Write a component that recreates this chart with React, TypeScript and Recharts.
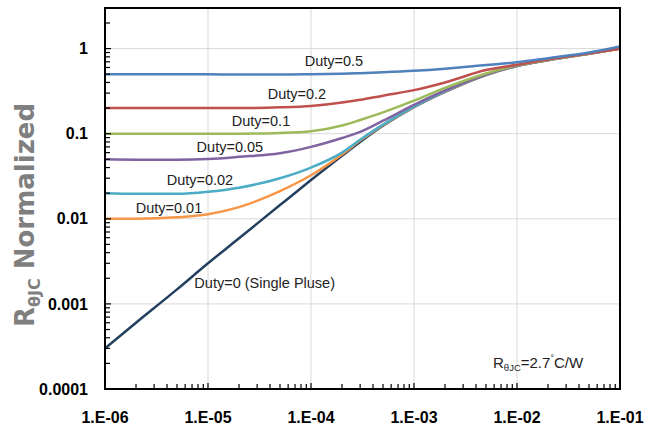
import React from "react";
import {
  LineChart,
  Line,
  XAxis,
  YAxis,
  CartesianGrid,
  ReferenceDot,
} from "recharts";

// pulse width (s) sample points
const pulseTimes = [
  1e-6, 2e-6, 5e-6, 1e-5, 2e-5, 5e-5, 1e-4, 2e-4, 3e-4, 5e-4, 1e-3, 2e-3, 5e-3,
  1e-2, 2e-2, 5e-2, 1e-1,
];

// normalized thermal impedance per duty cycle
const duty05 = [0.5, 0.5, 0.5, 0.498, 0.495, 0.495, 0.5, 0.508, 0.515, 0.527, 0.548, 0.58, 0.64, 0.69, 0.77, 0.9, 1.06];
const duty02 = [0.2, 0.2, 0.2, 0.2, 0.2, 0.204, 0.212, 0.232, 0.25, 0.28, 0.325, 0.4, 0.56, 0.645, 0.745, 0.876, 1.0];
const duty01 = [0.1, 0.1, 0.1, 0.1, 0.1, 0.102, 0.107, 0.125, 0.145, 0.178, 0.245, 0.345, 0.51, 0.635, 0.737, 0.874, 1.0];
const duty005 = [0.05, 0.0495, 0.0495, 0.0505, 0.0535, 0.059, 0.07, 0.089, 0.105, 0.142, 0.218, 0.322, 0.497, 0.63, 0.735, 0.873, 1.0];
const duty002 = [0.02, 0.0197, 0.0197, 0.0208, 0.0232, 0.03, 0.04, 0.06, 0.085, 0.128, 0.208, 0.314, 0.494, 0.628, 0.735, 0.873, 1.0];
const duty001 = [0.01, 0.01, 0.0104, 0.0113, 0.0137, 0.0212, 0.0325, 0.057, 0.083, 0.126, 0.207, 0.312, 0.492, 0.627, 0.733, 0.872, 1.0];
const singlePulse = [0.0003, 0.0006, 0.00148, 0.003, 0.0059, 0.0145, 0.0285, 0.055, 0.08, 0.124, 0.205, 0.31, 0.49, 0.625, 0.73, 0.87, 1.0];

const xTicks = [1e-6, 1e-5, 1e-4, 1e-3, 1e-2, 1e-1];
const xTickLabels = ["1.E-06", "1.E-05", "1.E-04", "1.E-03", "1.E-02", "1.E-01"];
const yTicks = [0.0001, 0.001, 0.01, 0.1, 1];
const yTickLabels = ["0.0001", "0.001", "0.01", "0.1", "1"];

// curve labels: [text, x, y] in data units
const curveLabels: [string, number, number][] = [
  ["Duty=0.5", 1.67e-4, 0.713],
  ["Duty=0.2", 7.3e-5, 0.297],
  ["Duty=0.1", 3.27e-5, 0.143],
  ["Duty=0.05", 1.63e-5, 0.0708],
  ["Duty=0.02", 8.35e-6, 0.029],
  ["Duty=0.01", 4.18e-6, 0.01346],
  ["Duty=0 (Single Pluse)", 3.55e-5, 0.00175],
];

const series = [
  { key: "single", values: singlePulse, color: "#23405f" },
  { key: "d001", values: duty001, color: "#f79646" },
  { key: "d002", values: duty002, color: "#4bacc6" },
  { key: "d005", values: duty005, color: "#8064a2" },
  { key: "d01", values: duty01, color: "#9bbb59" },
  { key: "d02", values: duty02, color: "#c0504d" },
  { key: "d05", values: duty05, color: "#4f81bd" },
];

const data = pulseTimes.map((t, i) => {
  const row: Record<string, number> = { t };
  series.forEach((s) => (row[s.key] = s.values[i]));
  return row;
});

// all tick marks (majors + 2..9 of each decade)
const allX: number[] = [];
for (let e = -6; e < -1; e++) for (let m = 1; m < 10; m++) allX.push(m * Math.pow(10, e));
allX.push(0.1);
const allY: number[] = [];
for (let e = -4; e < 0; e++) for (let m = 1; m < 10; m++) allY.push(m * Math.pow(10, e));
allY.push(1, 2);

const X_DOMAIN: [number, number] = [1e-6, 0.1];
const Y_DOMAIN: [number, number] = [1e-4, 3];
const MARGIN = { top: 8, right: 38, bottom: 0, left: 0 };
const Y_AXIS_W = 105;
const X_AXIS_H = 36;
const W = 658;
const H = 425;
const X_MARGIN = 23;
const Y_MARGIN = 17;

const tickFont = {
  fontFamily: "'Liberation Sans', Arial, sans-serif",
  fontWeight: "bold" as const,
  fontSize: 16,
  fill: "#000",
};

const majorIndex = (v: number, list: number[]) =>
  list.findIndex((t) => Math.abs(Math.log10(t) - Math.log10(v)) < 1e-6);

function XTick(props: any) {
  const { x, y, payload } = props;
  const i = majorIndex(payload.value, xTicks);
  const y0 = y - X_MARGIN;
  return (
    <g>
      <line x1={x} x2={x} y1={y0} y2={y0 - (i >= 0 ? 6 : 5)} stroke="#000" strokeWidth={1.2} />
      {i >= 0 && (
        <text x={x} y={y} dy="0.71em" textAnchor="middle" {...tickFont}>
          {xTickLabels[i]}
        </text>
      )}
    </g>
  );
}

function YTick(props: any) {
  const { x, y, payload } = props;
  const i = majorIndex(payload.value, yTicks);
  const x0 = x + Y_MARGIN;
  return (
    <g>
      <line x1={x0} x2={x0 + (i >= 0 ? 6 : 5)} y1={y} y2={y} stroke="#000" strokeWidth={1.2} />
      {i >= 0 && (
        <text x={x} y={y} dy="0.355em" textAnchor="end" {...tickFont}>
          {yTickLabels[i]}
        </text>
      )}
    </g>
  );
}

function YTitle(props: any) {
  const vb = props.viewBox || { x: 0 };
  return (
    <text
      transform={`translate(${vb.x + 34},215) rotate(-90)`}
      textAnchor="middle"
      fontFamily="'DejaVu Sans', sans-serif"
      fontWeight="bold"
      fontSize={26}
      fill="#7f7f7f"
    >
      <tspan>R</tspan>
      <tspan fontSize={16} dy={6}>θJC</tspan>
      <tspan dy={-6}> Normalized</tspan>
    </text>
  );
}

function RjcNote(props: any) {
  const vb = props.viewBox || { x: 0, y: 0 };
  return (
    <text x={vb.x} y={vb.y} fontFamily="'Liberation Sans', Arial, sans-serif" fontSize={15} fill="#222">
      <tspan>R</tspan>
      <tspan fontSize={9.5} dy={3}>θJC</tspan>
      <tspan dy={-3}>=2.7</tspan>
      <tspan fontSize={9} dy={-7}>°</tspan>
      <tspan dy={7}>C/W</tspan>
    </text>
  );
}

export default function App() {
  // plot frame box (same as the chart's plot area)
  const plotLeft = MARGIN.left + Y_AXIS_W;
  const plotTop = MARGIN.top;
  const plotW = W - plotLeft - MARGIN.right;
  const plotH = H - plotTop - MARGIN.bottom - X_AXIS_H;
  return (
    <div style={{ position: "absolute", left: 0, top: 0, width: W, height: H, background: "#fff" }}>
      <LineChart width={W} height={H} data={data} margin={MARGIN}>
        <CartesianGrid stroke="#d9d9d9" strokeWidth={1} verticalValues={xTicks} horizontalValues={yTicks} />
        <XAxis
          dataKey="t"
          type="number"
          scale="log"
          domain={X_DOMAIN}
          ticks={allX}
          interval={0}
          allowDataOverflow
          height={X_AXIS_H}
          tickLine={false}
          axisLine={false}
          tickSize={0}
          tickMargin={X_MARGIN}
          tick={<XTick />}
        />
        <YAxis
          type="number"
          scale="log"
          domain={Y_DOMAIN}
          ticks={allY}
          interval={0}
          allowDataOverflow
          width={Y_AXIS_W}
          tickLine={false}
          axisLine={false}
          tickSize={0}
          tickMargin={Y_MARGIN}
          tick={<YTick />}
          label={<YTitle />}
        />
        {series.map((s) => (
          <Line
            key={s.key}
            dataKey={s.key}
            type="monotone"
            stroke={s.color}
            strokeWidth={2.5}
            dot={false}
            activeDot={false}
            isAnimationActive={false}
          />
        ))}
        {curveLabels.map(([text, x, y]) => (
          <ReferenceDot
            key={text}
            x={x}
            y={y}
            r={0}
            fill="none"
            stroke="none"
            label={{
              value: text,
              position: "center",
              fontFamily: "'Liberation Sans', Arial, sans-serif",
              fontSize: 14.5,
              fill: "#222",
            }}
          />
        ))}
        <ReferenceDot x={5.85e-3} y={1.76e-4} r={0} fill="none" stroke="none" label={<RjcNote />} />
      </LineChart>
      <div
        style={{
          position: "absolute",
          left: plotLeft - 1,
          top: plotTop - 1,
          width: plotW + 2,
          height: plotH + 2,
          border: "2px solid #000",
          boxSizing: "border-box",
          pointerEvents: "none",
        }}
      />
    </div>
  );
}
